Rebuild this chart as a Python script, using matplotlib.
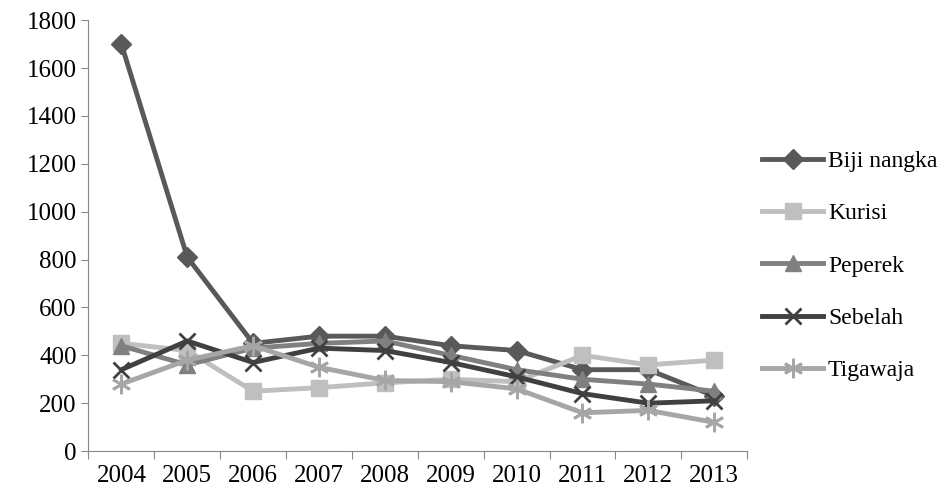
import matplotlib
matplotlib.use("Agg")
import matplotlib.pyplot as plt

years = [2004, 2005, 2006, 2007, 2008, 2009, 2010, 2011, 2012, 2013]
biji = [1700, 810, 450, 480, 480, 440, 420, 340, 340, 230]
kurisi = [450, 420, 250, 265, 285, 300, 290, 400, 360, 380]
peperek = [440, 360, 430, 450, 460, 400, 340, 300, 280, 250]
sebelah = [340, 460, 370, 430, 420, 370, 310, 240, 200, 210]
tigawaja = [280, 380, 440, 350, 295, 290, 260, 160, 170, 120]

plt.rcParams['font.family'] = ['Liberation Serif']
fig = plt.figure(figsize=(9.41, 5.04), dpi=100)
ax = fig.add_axes([0.094, 0.105, 0.70, 0.855])
x = list(range(len(years)))
ax.plot(x, biji, color='#595959', marker='D', ms=10, lw=3.5, label='Biji nangka')
ax.plot(x, kurisi, color='#bfbfbf', marker='s', ms=12, lw=3.5, label='Kurisi')
ax.plot(x, peperek, color='#808080', marker='^', ms=11, lw=3.5, label='Peperek')
ax.plot(x, sebelah, color='#404040', marker='x', ms=12, mew=2, lw=3.5, label='Sebelah')
ax.plot(x, tigawaja, color='#a6a6a6', marker=(6, 2, 0), ms=14, mew=2, lw=3.5, label='Tigawaja')
ax.set_xlim(-0.5, 9.5)
ax.set_ylim(0, 1800)
ax.set_yticks(range(0, 1801, 200))
ax.set_xticks([i - 0.5 for i in range(11)], minor=False)
ax.set_xticklabels([])
ax.set_xticks(x, minor=True)
ax.set_xticklabels([str(y) for y in years], minor=True)
ax.tick_params(axis='x', which='minor', length=0, labelsize=18, pad=10)
ax.tick_params(axis='x', which='major', length=6, color='#888888', direction='out')
ax.tick_params(axis='y', labelsize=18, length=5, color='#888888')
for s in ['top', 'right']:
    ax.spines[s].set_visible(False)
for s in ['left', 'bottom']:
    ax.spines[s].set_color('#888888')
ax.legend(loc='center left', bbox_to_anchor=(0.99, 0.43), frameon=False, fontsize=17,
          handlelength=2.6, handletextpad=0.2, labelspacing=1.3)
fig.savefig('out.png')
